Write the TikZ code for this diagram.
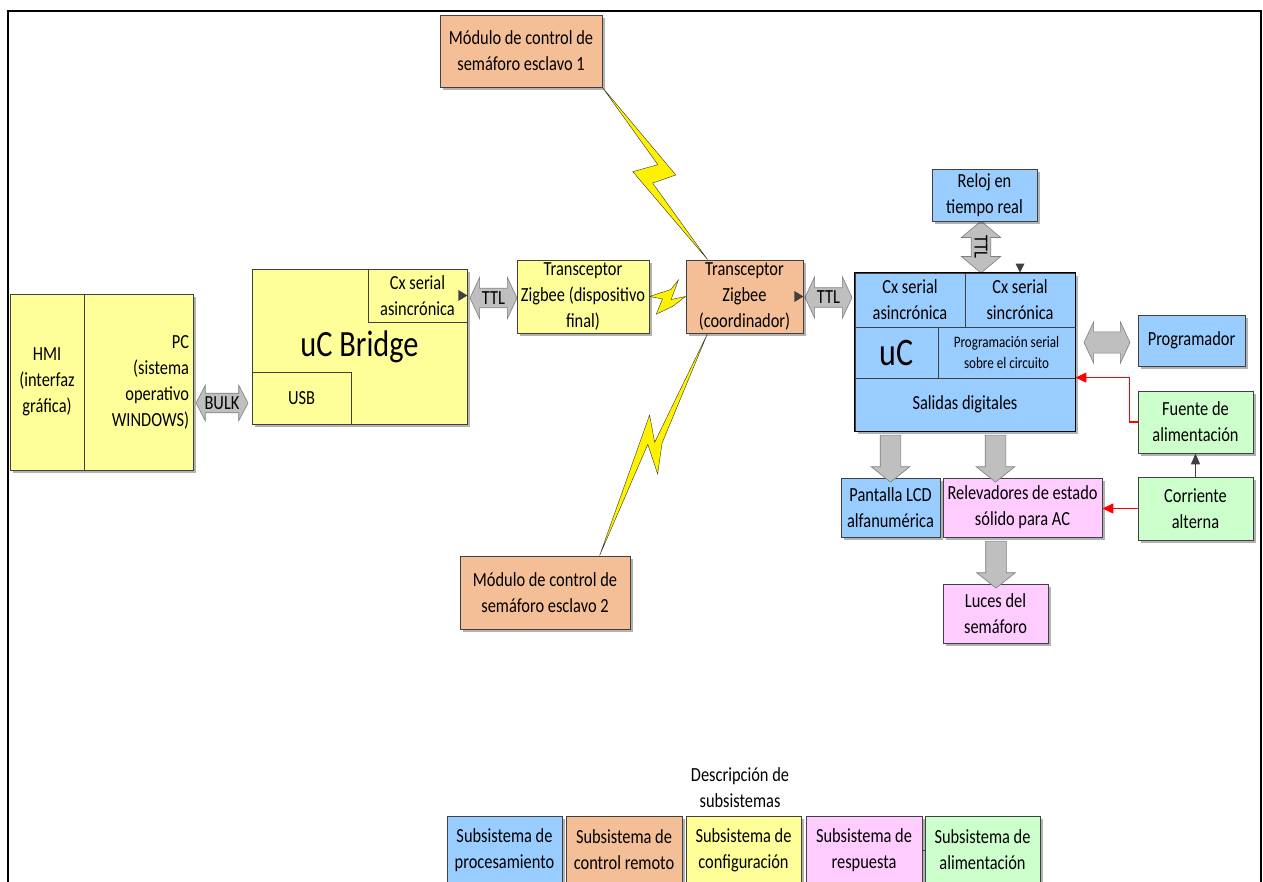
\documentclass[tikz,border=0pt]{standalone}
\usepackage{fontspec}
\setmainfont{Carlito}[FakeStretch=0.82]
\usetikzlibrary{shapes.arrows,shadows,calc,arrows.meta}
\definecolor{cblue}{RGB}{153,204,255}
\definecolor{corange}{RGB}{244,190,150}
\definecolor{cyellow}{RGB}{255,255,153}
\definecolor{cpink}{RGB}{255,204,255}
\definecolor{cgreen}{RGB}{204,255,204}
\definecolor{cgray}{RGB}{191,191,191}
\definecolor{cgrayd}{RGB}{127,127,127}
\definecolor{cline}{RGB}{64,64,64}
\newcommand\fN{\fontsize{20}{26}\selectfont}
\newcommand\fA{\fontsize{20}{22}\selectfont}
\begin{document}
\begin{tikzpicture}[x=1pt,y=-1pt,
  box/.style={draw=cline, line width=0.8pt, align=center, inner sep=1pt, font=\fN},
  shd/.style={drop shadow={shadow xshift=2.5pt,shadow yshift=-2.5pt,opacity=0.3,fill=black}},
  sz/.style 2 args={minimum width=#1pt, minimum height=#2pt},
  garrow/.style={draw=cgrayd, fill=cgray, line width=0.6pt, font=\fA},
  darr/.style={garrow, double arrow, inner xsep=1pt, inner ysep=3pt},
  sarr/.style={garrow, single arrow, rotate=-90, inner ysep=10pt, inner xsep=0pt,
    minimum height=47pt, single arrow head extend=9pt, single arrow tip angle=103},
  redarr/.style={draw=red, line width=1.2pt, -{Triangle[length=11pt,width=10pt]}},
  grayarr/.style={draw=cline, line width=1.2pt, -{Triangle[length=11pt,width=9pt]}},
  bolt/.style={fill=yellow, draw=black!80, line width=0.4pt, line join=miter}
]
\useasboundingbox (0,0) rectangle (1263,881);
% frame
\draw[line width=2.2pt] (8,895) -- (8,11) -- (1261,11) -- (1261,895);

% PC side
\node[box,shd,fill=cyellow,sz={74}{176}] (hmi) at (47,382) {HMI\\(interfaz\\gráfica)};
\node[box,shd,fill=cyellow,sz={109}{176},text width=101pt,align=right] (pc) at (138.5,382) {PC\\(sistema\\operativo\\WINDOWS)};

% uC Bridge
\node[box,shd,fill=cyellow,sz={215}{155},font=\fontsize{37}{40}\selectfont] (bridge) at (359.5,346.5) {uC Bridge};
\node[box,fill=cyellow,sz={99}{53}] (bcx) at (417.5,295.5) {Cx serial\\asincrónica};
\node[box,fill=cyellow,sz={99}{52}] (usb) at (301.5,398) {USB};
\fill[cline] (bcx.east) -- ++(-9,-5.5) -- ++(0,11) -- cycle;

% block arrows
\node[darr, minimum height=52pt, double arrow head extend=8pt, double arrow tip angle=125] (bulk) at (222,403) {BULK};
\node[darr, minimum height=47pt, double arrow head extend=11pt, double arrow tip angle=130] (ttla) at (493.5,298) {TTL};
\node[darr, minimum height=47pt, double arrow head extend=11pt, double arrow tip angle=130] (ttlb) at (828.5,297.5) {TTL};
\node[darr, rotate=-90, minimum height=52pt, double arrow head extend=10pt, double arrow tip angle=100] (ttlc) at (981,247) {TTL};
\node[garrow, double arrow, inner ysep=10.3pt, inner xsep=0pt, minimum height=46pt, double arrow head extend=10pt, double arrow tip angle=130] (parr) at (1107,342.5) {};

% Zigbee
\node[box,shd,fill=cyellow,sz={132}{73}] (fin) at (583,296.5) {Transceptor\\Zigbee (dispositivo\\final)};
\node[box,shd,fill=corange,sz={117}{73}] (coord) at (744.5,296.5) {Transceptor\\Zigbee\\(coordinador)};
\fill[cline] (coord.east) -- ++(-9,-5.5) -- ++(0,11) -- cycle;

% slaves
\node[box,shd,fill=corange,sz={162}{72}] (esc1) at (521,51) {Módulo de control de\\semáforo esclavo 1};
\node[box,shd,fill=corange,sz={170}{73}] (esc2) at (545,592.5) {Módulo de control de\\semáforo esclavo 2};

% bolts
\coordinate (b1a) at (esc1.south east);
\coordinate (b1b) at ($(coord.north west)+(22,0)$);
\filldraw[bolt] (b1a) -- ($(b1a)!0.56!(b1b)!17pt!90:(b1b)$) -- ($(b1a)!0.534!(b1b)!7pt!-90:(b1b)$) -- (b1b)
  -- ($(b1a)!0.435!(b1b)!18pt!-90:(b1b)$) -- ($(b1a)!0.47!(b1b)!7pt!90:(b1b)$) -- cycle;
\coordinate (b2a) at ($(coord.south west)+(22,0)$);
\coordinate (b2b) at ($(esc2.north west)+(140,0)$);
\filldraw[bolt] (b2a) -- ($(b2a)!0.48!(b2b)!7pt!90:(b2b)$) -- ($(b2a)!0.60!(b2b)!16.5pt!90:(b2b)$) -- ($(b2a)!0.51!(b2b)!5.3pt!-90:(b2b)$) -- (b2b)
  -- ($(b2a)!0.40!(b2b)!16.5pt!-90:(b2b)$) -- ($(b2a)!0.49!(b2b)$) -- cycle;
\coordinate (b3a) at (fin.east);
\coordinate (b3b) at (coord.west);
\filldraw[bolt] (b3a) -- ($(b3a)!0.59!(b3b)!7pt!90:(b3b)$) -- ($(b3a)!0.80!(b3b)!16.4pt!90:(b3b)$) -- ($(b3a)!0.60!(b3b)!3pt!-90:(b3b)$) -- (b3b)
  -- ($(b3a)!0.64!(b3b)!9.9pt!-90:(b3b)$) -- ($(b3a)!0.19!(b3b)!17.7pt!-90:(b3b)$) -- ($(b3a)!0.36!(b3b)!2.4pt!-90:(b3b)$) -- cycle;

% uC block
\node[box,shd,fill=cblue,sz={220}{158}] (uc) at (965,352) {};
\node[box,fill=cblue,sz={110}{54}] (cxa) at (910,300) {Cx serial\\asincrónica};
\node[box,fill=cblue,sz={110}{54}] (cxs) at (1020,300) {Cx serial\\sincrónica};
\node[box,fill=cblue,sz={83}{51},font=\fontsize{39}{40}\selectfont] (ucl) at (896.5,352.5) {uC};
\node[box,fill=cblue,sz={137}{51},font=\fontsize{16}{21}\selectfont] (isp) at (1006.5,352.5) {Programación serial\\sobre el circuito};
\node[box,fill=cblue,sz={220}{53}] (sal) at (965,404.5) {Salidas digitales};
\draw[line width=1.3pt] (uc.north west) rectangle (uc.south east);
\fill[cline] ($(uc.north)+(55,0)$) -- ++(-4.5,-9) -- ++(9,0) -- cycle;

% periphery
\node[box,shd,fill=cblue,sz={105}{52}] (reloj) at (984.5,195) {Reloj en\\tiempo real};
\node[box,shd,fill=cblue,sz={107}{51}] (progr) at (1191.5,340.5) {Programador};
\node[box,shd,fill=cgreen,sz={115}{62}] (fuente) at (1195.5,422) {Fuente de\\alimentación};
\node[box,shd,fill=cgreen,sz={115}{63}] (corr) at (1195.5,508.5) {Corriente\\alterna};
\node[box,shd,fill=cblue,sz={99}{59}] (lcd) at (890.5,507.5) {Pantalla LCD\\alfanumérica};
\node[box,shd,fill=cpink,sz={159}{59}] (relev) at (1022.5,507.5) {Relevadores de estado\\sólido para AC};
\node[box,shd,fill=cpink,sz={105}{59}] (luces) at (995.5,613.5) {Luces del\\semáforo};

\node[sarr] (d1) at (890.5,454.5) {};
\node[sarr] (d2) at (995.5,454.5) {};
\node[sarr] (d3) at (996,560.5) {};

\draw[redarr] (fuente.west) -- ++(-8,0) |- (sal.north east);
\draw[redarr] (corr.west) -- (corr.west -| relev.east);
\draw[grayarr] (corr.north) -- (fuente.south);

% legend
\node[font=\fN, align=center] (legt) at (740,788) {Descripción de\\subsistemas};
\node[box,shd,fill=cblue,sz={115}{68}] (l1) at (504.5,850) {Subsistema de\\procesamiento};
\node[box,shd,fill=corange,sz={116}{68}] (l2) at (624,850) {Subsistema de\\control remoto};
\node[box,shd,fill=cyellow,sz={115}{68}] (l3) at (743.5,850) {Subsistema de\\configuración};
\node[box,shd,fill=cpink,sz={116}{68}] (l4) at (864,850) {Subsistema de\\respuesta};
\node[box,shd,fill=cgreen,sz={115}{68}] (l5) at (982.5,850) {Subsistema de\\alimentación};
\draw[cline, line width=0.8pt] (l4.east) -- (l5.west);
\end{tikzpicture}
\end{document}
